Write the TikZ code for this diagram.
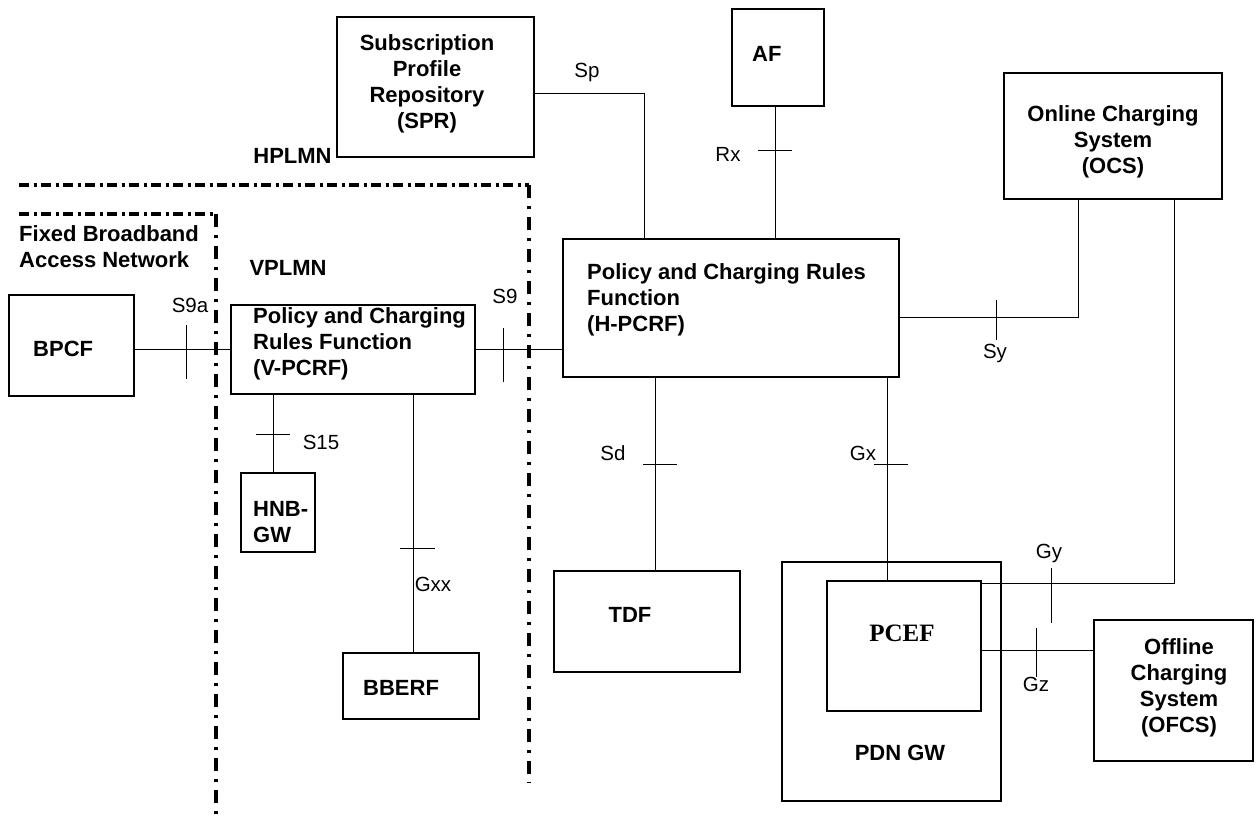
\documentclass[tikz,border=0pt]{standalone}
\usepackage{fontspec}
\setmainfont{Liberation Sans}
\newfontfamily\serifbold{Liberation Serif}

\begin{document}
\begin{tikzpicture}[
 x=1pt, y=-1pt,
 box/.style = {
    rectangle,
    draw=black,
    line width=1.2pt,
    inner sep=0pt},
 boxtext/.style = {
    font=\bfseries\fontsize{22}{26}\selectfont,
    inner sep=0pt},
 iface/.style = {
    font=\fontsize{20.5}{24}\selectfont,
    inner sep=0pt},
 link/.style = {line width=1pt},
 hborder/.style = {line width=3.2pt, dash pattern=on 10pt off 4.5pt on 3pt off 4.5pt},
 vborder/.style = {line width=3.2pt, dash pattern=on 13pt off 8pt on 3pt off 8pt}
 ]
\useasboundingbox (0,0) rectangle (1257,818);

\draw[hborder] (19,185) -- (529,185);
\draw[vborder] (529,185) -- (529,783);
\draw[hborder] (19,214) -- (216,214);
\draw[vborder] (216,214) -- (216,818);

\node(spr)[box,minimum width=197pt,minimum height=140pt] at (435.5,87) {};
\node(af)[box,minimum width=92pt,minimum height=97pt] at (778,57.5) {};
\node(ocs)[box,minimum width=218pt,minimum height=126pt] at (1113,136) {};
\node(hpcrf)[box,minimum width=336pt,minimum height=138pt] at (731,308) {};
\node(bpcf)[box,minimum width=125pt,minimum height=101pt] at (71.5,345.5) {};
\node(vpcrf)[box,minimum width=244pt,minimum height=89pt] at (353,349.5) {};
\node(hnbgw)[box,minimum width=74pt,minimum height=79pt] at (278,512.5) {};
\node(bberf)[box,minimum width=136pt,minimum height=66pt] at (411,686) {};
\node(tdf)[box,minimum width=186pt,minimum height=101pt] at (647,621.5) {};
\node(pdngw)[box,minimum width=219pt,minimum height=239pt] at (891.5,681.5) {};
\node(pcef)[box,minimum width=154pt,minimum height=130pt] at (904,646) {};
\node(ofcs)[box,minimum width=159pt,minimum height=141pt] at (1173.5,690.5) {};

\node(sprtxt)[boxtext,align=center] at (427,84) {Subscription\\Profile\\Repository\\(SPR)};
\node(aftxt)[boxtext,anchor=west] at (752,54) {AF};
\node(ocstxt)[boxtext,align=center] at (1113,142) {Online Charging\\System\\(OCS)};
\node(hpcrftxt)[boxtext,align=left,anchor=west] at (587,300) {Policy and Charging Rules\\Function\\(H-PCRF)};
\node(bpcftxt)[boxtext,anchor=west] at (33,349) {BPCF};
\node(vpcrftxt)[boxtext,align=left,anchor=west] at (253,344) {Policy and Charging\\Rules Function\\(V-PCRF)};
\node(hnbtxt)[boxtext,align=left,anchor=west] at (253,522) {HNB-\\GW};
\node(bberftxt)[boxtext,anchor=west] at (363,688) {BBERF};
\node(tdftxt)[boxtext] at (630,615) {TDF};
\node(pceftxt)[font=\serifbold\bfseries\fontsize{25}{28}\selectfont,inner sep=0pt] at (902,633) {PCEF};
\node(pdntxt)[boxtext] at (900,753) {PDN GW};
\node(ofcstxt)[boxtext,align=center] at (1179,687.5) {Offline\\Charging\\System\\(OFCS)};
\node(hplmn)[boxtext] at (292.5,156) {HPLMN};
\node(fixed)[boxtext,align=left,anchor=west] at (19,246.5) {Fixed Broadband\\Access Network};
\node(vplmn)[boxtext] at (288,268) {VPLMN};

\draw[link] ([yshift=-7pt]spr.east) -| ([xshift=-87pt]hpcrf.north);
\draw[link] ([xshift=-3pt]af.south) -- ([xshift=44pt]hpcrf.north);
\draw[link] ([xshift=-35pt]ocs.south) |- ([yshift=-9pt]hpcrf.east);
\draw[link] ([xshift=61pt]ocs.south) |- ([yshift=63pt]pcef.east);
\draw[link] ([yshift=-4pt]bpcf.east) -- (vpcrf.west);
\draw[link] (vpcrf.east) -- (vpcrf.east -| hpcrf.west);
\draw[link] ([xshift=-80pt]vpcrf.south) -- ([xshift=-5pt]hnbgw.north);
\draw[link] ([xshift=60pt]vpcrf.south) -- ([xshift=2pt]bberf.north);
\draw[link] ([xshift=-76pt]hpcrf.south) -- ([xshift=8pt]tdf.north);
\draw[link] ([xshift=156pt]hpcrf.south) -- ([xshift=-17pt]pcef.north);
\draw[link] ([yshift=-4pt]pcef.east) -- ([yshift=40.5pt]ofcs.west);

\draw[link] (758,151) -- (792,151);
\draw[link] (996,300) -- (996,340);
\draw[link] (186,325) -- (186,379);
\draw[link] (503,328) -- (503,382);
\draw[link] (256,434) -- (290,434);
\draw[link] (643,464) -- (677,464);
\draw[link] (874,464) -- (908,464);
\draw[link] (400,548) -- (435,548);
\draw[link] (1051,568) -- (1051,623);
\draw[link] (1036,628) -- (1036,677);

\node(sp)[iface] at (587,72) {Sp};
\node(rx)[iface] at (728,154) {Rx};
\node(sy)[iface] at (995,353) {Sy};
\node(s9a)[iface] at (190,305) {S9a};
\node(s9)[iface] at (505,296) {S9};
\node(s15)[iface] at (321,442) {S15};
\node(sd)[iface] at (613,453) {Sd};
\node(gx)[iface] at (863,453) {Gx};
\node(gxx)[iface] at (433,584) {Gxx};
\node(gy)[iface] at (1049,553) {Gy};
\node(gz)[iface] at (1036,684) {Gz};

\end{tikzpicture}
\end{document}
